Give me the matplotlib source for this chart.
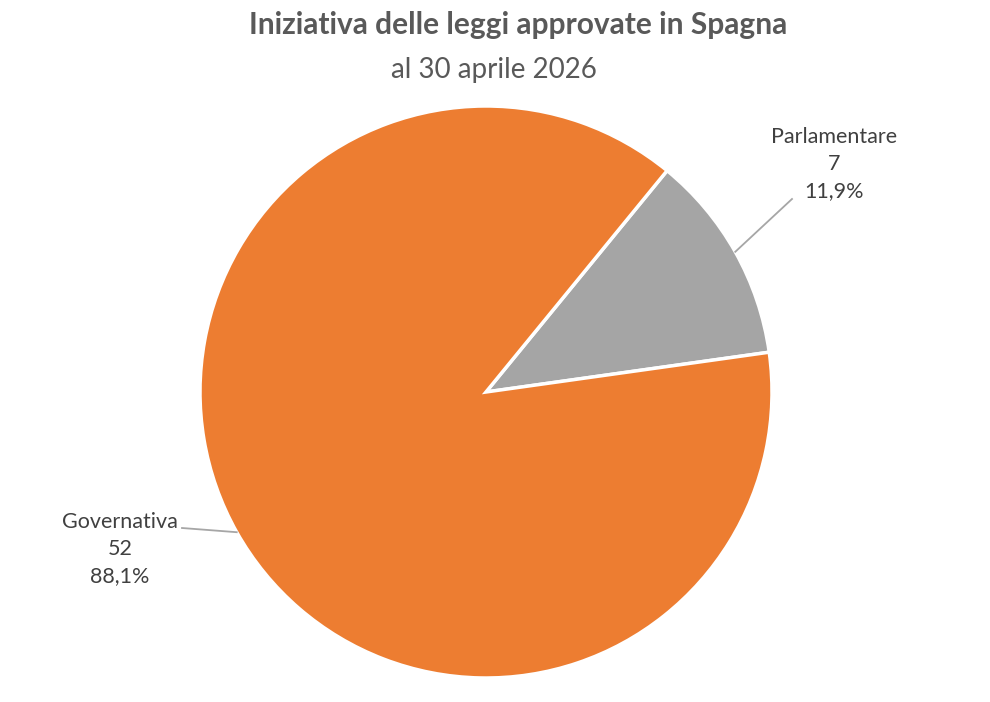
import numpy as np
import matplotlib
matplotlib.use("Agg")
import matplotlib.pyplot as plt

categories = ["Parlamentare", "Governativa"]
values = [7, 52]
percent_labels = ["11,9%", "88,1%"]
colors = ["#A5A5A5", "#ED7D31"]

title = "Iniziativa delle leggi approvate in Spagna"
subtitle = "al 30 aprile 2026"

plt.rcParams['font.family'] = ['Lato', 'DejaVu Sans']

W, H = 990, 702
fig = plt.figure(figsize=(W / 100, H / 100), dpi=100)
ax = fig.add_axes([0, 0, 1, 1])
ax.set_xlim(0, W)
ax.set_ylim(0, H)
ax.axis('off')

cx, cy, R = 486, H - 392, 286
wedges, _ = ax.pie(values, colors=colors, startangle=8, counterclock=True,
                   center=(cx, cy), radius=R,
                   wedgeprops=dict(edgecolor='white', linewidth=2.5))
ax.set_xlim(0, W)
ax.set_ylim(0, H)
ax.set_aspect('equal')

text_color = "#404040"
# label layouts (pixel positions, y from top), and leader end points
label_pos = {"Parlamentare": (834, 164), "Governativa": (120, 549)}
leader_end = {"Parlamentare": (792, 199), "Governativa": (182, 528)}

for w, cat, v, p in zip(wedges, categories, values, percent_labels):
    mid = np.deg2rad((w.theta1 + w.theta2) / 2)
    x0 = cx + R * np.cos(mid)
    y0 = cy + R * np.sin(mid)
    ex, ey = leader_end[cat]
    ax.plot([x0, ex], [y0, H - ey], color="#A6A6A6", lw=1.3)
    lx, ly = label_pos[cat]
    ax.text(lx, H - ly, f"{cat}\n{v}\n{p}", ha='center', va='center',
            fontsize=15.5, color=text_color, linespacing=1.45)

fig.text(518 / W, 1 - 25 / H, title, ha='center', va='center',
         fontsize=21.5, fontweight='bold', color="#595959")
fig.text(494 / W, 1 - 70 / H, subtitle, ha='center', va='center',
         fontsize=20, color="#595959")

fig.savefig("out.png", dpi=100, facecolor='white')
